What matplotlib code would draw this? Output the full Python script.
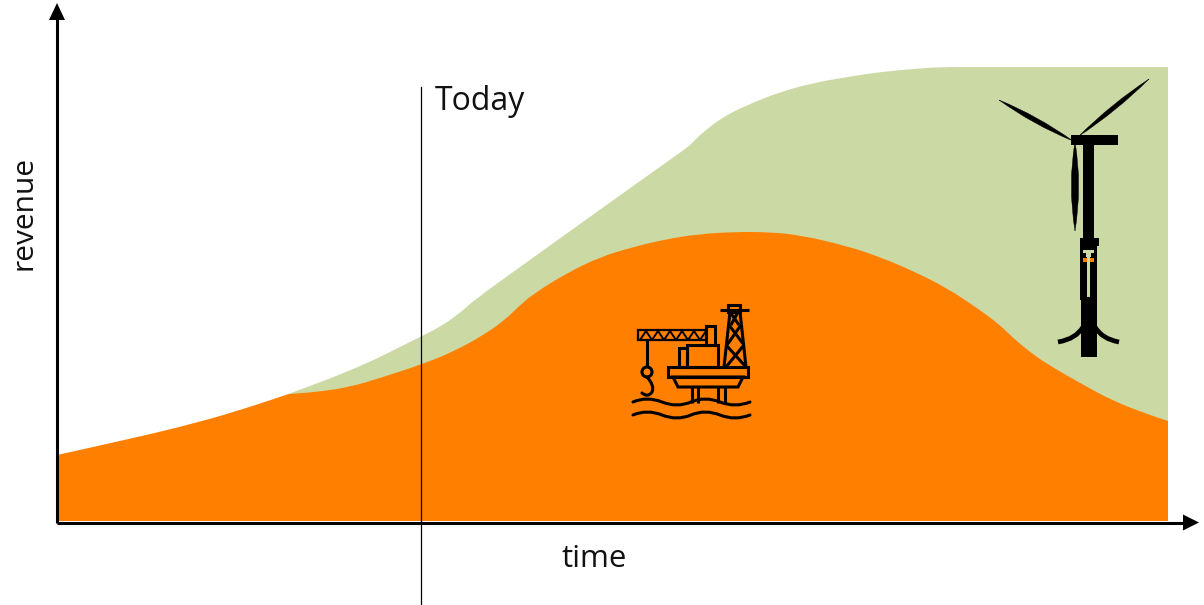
import matplotlib
matplotlib.use('Agg')
import matplotlib.pyplot as plt
from matplotlib.patches import Polygon, Rectangle, Circle, PathPatch
from matplotlib.path import Path

# Curves, in canvas units (x to the right, y downwards)
time_oil = [57, 130, 200, 250, 287, 289, 317, 350, 380, 420, 453, 487, 507, 517, 533, 567, 600, 633, 667, 700,
            733, 767, 800, 847, 880, 913, 947, 980, 1000, 1013, 1030, 1047, 1080, 1113, 1147, 1168]
revenue_oil = [455, 439, 422, 407, 394.5, 394, 392, 387, 378, 365, 352, 333, 318, 308, 294, 273, 257, 247, 239, 234,
               232, 232, 235, 246, 257, 271, 288, 310, 325, 338, 352, 364, 383, 401, 414, 421]
time_total = [288, 350, 420, 440, 460, 473, 520, 580, 640, 688, 690, 703, 723, 747, 780, 813, 847, 880, 913, 940, 980, 1168]
revenue_total = [394, 372, 337, 327, 313, 301, 267, 224, 181, 147, 145, 132, 117, 105, 92, 83, 77, 72, 69, 67, 67, 67]

baseline = 521
today_x = 421
GREEN = '#cbd9a5'
ORANGE = '#ff8000'

plt.rcParams['font.family'] = ['Open Sans', 'DejaVu Sans']

fig = plt.figure(figsize=(12.04, 6.05), dpi=100)
ax = fig.add_axes([0, 0, 1, 1])
ax.set_xlim(0, 1204)
ax.set_ylim(605, 0)
ax.axis('off')


def area(xs, ys, color, zorder):
    # Closed shape under the curve, the read points act as quadratic control points
    verts = [(xs[0], baseline), (xs[0], ys[0])]
    codes = [Path.MOVETO, Path.LINETO]
    for i in range(1, len(xs) - 1):
        verts += [(xs[i], ys[i]), ((xs[i] + xs[i + 1]) / 2, (ys[i] + ys[i + 1]) / 2)]
        codes += [Path.CURVE3, Path.CURVE3]
    verts += [(xs[-1], ys[-1]), (xs[-1], baseline), (xs[0], baseline)]
    codes += [Path.LINETO, Path.LINETO, Path.CLOSEPOLY]
    ax.add_patch(PathPatch(Path(verts, codes), fc=color, ec='none', zorder=zorder))


area(time_total, revenue_total, GREEN, 1)
area(time_oil, revenue_oil, ORANGE, 2)

# Axes arrows
ax.plot([57, 57], [523, 18], color='black', lw=2.2, zorder=4, solid_capstyle='butt')
ax.plot([57, 1185], [522.5, 522.5], color='black', lw=2.2, zorder=4, solid_capstyle='butt')
ax.add_patch(Polygon([(57, 3), (49, 20), (65, 20)], closed=True, fc='black', ec='none', zorder=4))
ax.add_patch(Polygon([(1199, 522.5), (1183, 514.5), (1183, 530.5)], closed=True, fc='black', ec='none', zorder=4))

# Today marker
ax.plot([today_x, today_x], [87, 605], color='black', lw=0.9, zorder=4)

ax.text(435, 102, 'Today', fontsize=23, va='center', ha='left', color='#111111')
ax.text(594.5, 559, 'time', fontsize=22.5, va='center', ha='center', color='#111111')
ax.text(24, 213, 'revenue', fontsize=21.5, va='center', ha='center', rotation=90, color='#111111')


def curve(points, cap='round', **kw):
    # points: start, then control/end pairs of quadratic segments
    codes = [Path.MOVETO] + [Path.CURVE3] * (len(points) - 1)
    ax.add_patch(PathPatch(Path(points, codes), fc='none', ec='black', capstyle=cap, zorder=5, **kw))


def blade(tip, root, bulge1, bulge2):
    codes = [Path.MOVETO, Path.CURVE3, Path.CURVE3, Path.CURVE3, Path.CURVE3]
    ax.add_patch(PathPatch(Path([tip, bulge1, root, bulge2, tip], codes), fc='black', ec='black', lw=0.3, zorder=5))


# Wind turbine
ax.add_patch(Rectangle((1083, 140), 11, 100, fc='black', ec='none', zorder=5))
ax.add_patch(Rectangle((1071, 135), 47, 10, fc='black', ec='none', zorder=5))
blade((999, 100), (1073, 141), (1032.6, 124.4), (1037.4, 115.6))
blade((1149, 79), (1079, 136), (1111, 104), (1117, 111))
blade((1075, 231), (1075, 142), (1067.5, 185), (1082.5, 185))
ax.add_patch(Rectangle((1080, 238), 19, 8, fc='black', ec='none', zorder=5))
ax.add_patch(Rectangle((1080, 245), 17, 55, fc='black', ec='none', zorder=5))
ax.add_patch(Rectangle((1081, 299), 16, 58, fc='black', ec='none', zorder=5))
ax.add_patch(Rectangle((1083, 250), 11, 3, fc=GREEN, ec='none', zorder=6))
ax.add_patch(Rectangle((1086, 253), 5, 4, fc=GREEN, ec='none', zorder=6))
ax.add_patch(Rectangle((1087, 253), 3, 44, fc=GREEN, ec='none', zorder=6))
ax.add_patch(Rectangle((1083, 258), 4, 4, fc=ORANGE, ec='none', zorder=6))
ax.add_patch(Rectangle((1090, 258), 4, 4, fc=ORANGE, ec='none', zorder=6))
curve([(1083, 327), (1076, 339), (1058, 342)], cap='butt', lw=3.4)
curve([(1095, 327), (1102, 339), (1119, 342)], cap='butt', lw=3.4)

# Oil platform icon
rig_lw = 2.2
rig = dict(fc='none', ec='black', lw=rig_lw, zorder=5)
ax.add_patch(Rectangle((668, 367), 80, 10, **rig))
ax.add_patch(Polygon([(673, 377), (743, 377), (738, 387), (678, 387)], closed=True, **rig))
ax.add_patch(Rectangle((687, 345), 31, 22, **rig))
ax.add_patch(Rectangle((679, 348), 8, 19, **rig))
ax.add_patch(Rectangle((706, 326), 9, 19, **rig))
ax.add_patch(Rectangle((638, 330), 68, 10, fc='none', ec='black', lw=1.6, zorder=5))
ax.add_patch(Rectangle((728, 305), 12, 7, **rig))
ax.add_patch(Circle((647, 372), 5, **rig))

rig_lines = [
    ([692, 692], [387, 403]), ([698, 698], [387, 403]), ([718, 718], [387, 403]), ([725, 725], [387, 403]),
    ([724, 730, 740, 746], [367, 312, 312, 367]), ([720, 749], [310, 310]),
    ([729, 744], [325, 345]), ([741, 727], [325, 345]), ([726, 746], [345, 367]), ([744, 726], [345, 367]),
    ([730, 739], [312, 325]), ([738, 731], [312, 325]),
    ([647, 647], [340, 367]),
]
for xs, ys in rig_lines:
    ax.plot(xs, ys, color='black', lw=rig_lw, zorder=5, solid_capstyle='butt')

# Crane truss
truss_x = [640, 646, 652, 658, 664, 670, 676, 682, 688, 694, 700, 706]
truss_y = [340, 331, 340, 331, 340, 331, 340, 331, 340, 331, 340, 331]
ax.plot(truss_x, truss_y, color='black', lw=1.4, zorder=5)

curve([(647, 377), (655, 386), (652, 392), (648, 398), (642, 393)], lw=rig_lw)
curve([(633, 402), (647, 396), (662, 402), (677, 408), (691, 402), (705, 396), (720, 402), (735, 408), (750, 402)], lw=rig_lw)
curve([(633, 415), (647, 409), (662, 415), (677, 421), (691, 415), (705, 409), (720, 415), (735, 421), (750, 415)], lw=rig_lw)

fig.savefig('out.png', dpi=100)
